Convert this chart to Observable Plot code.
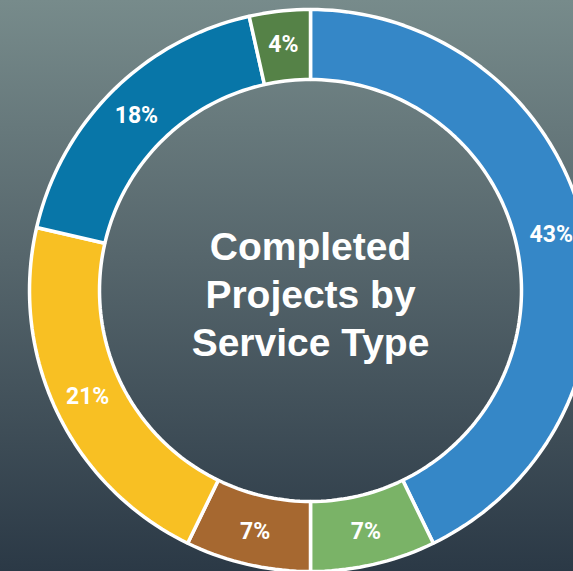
<!DOCTYPE html>
<html>
<head>
<meta charset="utf-8">
<script src="https://cdn.jsdelivr.net/npm/d3@7"></script>
<script src="https://cdn.jsdelivr.net/npm/@observablehq/plot@0.6"></script>
<style>
  html, body { margin: 0; padding: 0; background: #2c3a47; }
  #chart svg { display: block; }
</style>
</head>
<body>
<div id="chart"></div>
<script>
// Data (clockwise from 12 o'clock), shares
const categories = ["Service A", "Service B", "Service C", "Service D", "Service E", "Service F"];
const shares = [42.8, 7.2, 7.2, 21.4, 17.9, 3.5];
const shareLabels = ["43%", "7%", "7%", "21%", "18%", "4%"];
const sliceColors = ["#3587c7", "#7ab367", "#a66830", "#f8c023", "#0876a8", "#558247"];
const title = "Completed\nProjects by\nService Type";

const W = 573, H = 571;
const cx = 310, cy = 290;          // centre in pixels
const rOuter = 281, rInner = 211, rLabel = 247;

const pie = d3.pie().sort(null).value(d => d)(shares);

// polygon points of each ring slice, in pixel-sized units around the centre
const ringPoints = [];
pie.forEach((p, i) => {
  const n = Math.max(3, Math.ceil((p.endAngle - p.startAngle) / (2 * Math.PI) * 240));
  for (let k = 0; k <= n; k++) {
    const a = p.startAngle + (p.endAngle - p.startAngle) * k / n;
    ringPoints.push({i, x: rOuter * Math.sin(a), y: rOuter * Math.cos(a)});
  }
  for (let k = n; k >= 0; k--) {
    const a = p.startAngle + (p.endAngle - p.startAngle) * k / n;
    ringPoints.push({i, x: rInner * Math.sin(a), y: rInner * Math.cos(a)});
  }
});

const labels = pie.map((p, i) => {
  const a = (p.startAngle + p.endAngle) / 2;
  return {i, x: rLabel * Math.sin(a), y: rLabel * Math.cos(a), text: shareLabels[i]};
});

const chart = Plot.plot({
  width: W,
  height: H,
  margin: 0,
  x: {domain: [-cx, W - cx], axis: null},
  y: {domain: [cy - H, cy], axis: null},
  style: {background: "linear-gradient(to bottom, #778b8b 0%, #56666c 45%, #2b3946 100%)"},
  marks: [
    Plot.line(ringPoints, {
      x: "x", y: "y", z: "i",
      fill: d => sliceColors[d.i],
      stroke: "white",
      strokeWidth: 3.5,
      strokeLinejoin: "miter",
      curve: "linear-closed"
    }),
    Plot.text(labels, {
      x: "x", y: "y", text: "text",
      fill: "white",
      fontSize: 23,
      fontWeight: "bold",
      fontFamily: "Roboto, 'Liberation Sans', sans-serif"
    }),
    Plot.text([title], {
      x: 0, y: -2, text: d => d,
      fill: "white",
      fontSize: 39,
      lineHeight: 1.24,
      fontWeight: "bold",
      fontFamily: "'Liberation Sans', Arial, sans-serif"
    })
  ]
});
document.getElementById("chart").appendChild(chart);
</script>
</body>
</html>
